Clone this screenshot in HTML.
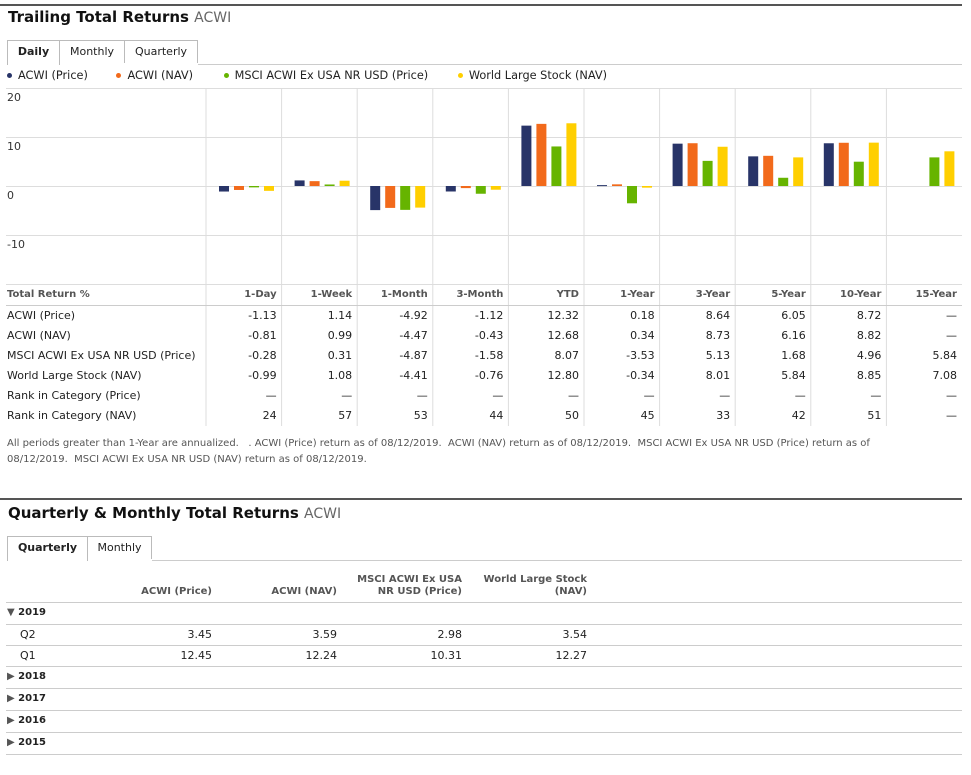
<!DOCTYPE html>
<html><head><meta charset="utf-8"><style>
body{margin:0;width:971px;height:775px;background:#fff;font-family:"DejaVu Sans",Verdana,sans-serif;font-size:11px;color:#222;position:relative;overflow:hidden}
.a{position:absolute;white-space:nowrap}
.rule{position:absolute;left:0;width:962px;height:2px;background:#555}
.title{font-size:15px;font-weight:bold;color:#111}
.title span{font-weight:normal;color:#666;font-size:14px}
.tab{position:absolute;height:23px;border:1px solid #bbb;border-bottom:none;box-sizing:border-box;line-height:22px;text-align:center;font-size:11px;background:#fff}
.tab.on{font-weight:bold;height:25px}
.hl{position:absolute;left:6px;width:956px;height:1px;background:#ccc}
.r{text-align:right}
.b{font-weight:bold;color:#555}
.dot{display:inline-block;width:5px;height:5px;border-radius:50%;margin-right:6px;vertical-align:1px}
</style></head><body>
<div class="rule" style="top:4px"></div>
<div class="a title" style="left:8px;top:8px">Trailing Total Returns <span>ACWI</span></div>
<div class="tab on" style="left:7px;top:40px;width:53px">Daily</div>
<div class="tab" style="left:59px;top:40px;width:66px">Monthly</div>
<div class="tab" style="left:124px;top:40px;width:74px">Quarterly</div>
<div class="hl" style="top:64px;left:198px;width:764px"></div>
<div class="a" style="left:7px;top:69px;line-height:14px;font-size:11.3px">
<span><i class="dot" style="background:#283468"></i>ACWI (Price)</span>
<span style="margin-left:25px"><i class="dot" style="background:#f26a1b"></i>ACWI (NAV)</span>
<span style="margin-left:27px"><i class="dot" style="background:#66b400"></i>MSCI ACWI Ex USA NR USD (Price)</span>
<span style="margin-left:26px"><i class="dot" style="background:#ffcf00"></i>World Large Stock (NAV)</span>
</div>
<svg id="chart" class="a" style="left:0;top:0" width="971" height="310"></svg>
<div id="tbl"></div>
<div class="a" style="left:7px;top:436px;font-size:10px;line-height:16px;color:#555;white-space:normal;width:920px">All periods greater than 1-Year are annualized. &nbsp;&nbsp;. ACWI (Price) return as of 08/12/2019. &nbsp;ACWI (NAV) return as of 08/12/2019. &nbsp;MSCI ACWI Ex USA NR USD (Price) return as of 08/12/2019. &nbsp;MSCI ACWI Ex USA NR USD (NAV) return as of 08/12/2019.</div>

<div class="rule" style="top:498px"></div>
<div class="a title" style="left:8px;top:504px">Quarterly &amp; Monthly Total Returns <span>ACWI</span></div>
<div class="tab on" style="left:7px;top:536px;width:81px">Quarterly</div>
<div class="tab" style="left:87px;top:536px;width:65px">Monthly</div>
<div class="hl" style="top:560px;left:152px;width:810px"></div>
<div id="qt"></div>
<script>
const categories=["1-Day","1-Week","1-Month","3-Month","YTD","1-Year","3-Year","5-Year","10-Year","15-Year"];
const seriesNames=["ACWI (Price)","ACWI (NAV)","MSCI ACWI Ex USA NR USD (Price)","World Large Stock (NAV)"];
const acwiPrice=[-1.13,1.14,-4.92,-1.12,12.32,0.18,8.64,6.05,8.72,null];
const acwiNav=[-0.81,0.99,-4.47,-0.43,12.68,0.34,8.73,6.16,8.82,null];
const msci=[-0.28,0.31,-4.87,-1.58,8.07,-3.53,5.13,1.68,4.96,5.84];
const wls=[-0.99,1.08,-4.41,-0.76,12.80,-0.34,8.01,5.84,8.85,7.08];
const rankPrice=[null,null,null,null,null,null,null,null,null,null];
const rankNav=[24,57,53,44,50,45,33,42,51,null];
const yTicks=[20,10,0,-10];
const colors=["#283468","#f26a1b","#66b400","#ffcf00"];
const NS="http://www.w3.org/2000/svg";
const svg=document.getElementById('chart');
const x0=206,cw=75.6,plotTop=88,plotBot=284;
const yScale=v=>186-v*4.9;
function mk(t,a){const e=document.createElementNS(NS,t);for(const k in a)e.setAttribute(k,a[k]);svg.appendChild(e);return e;}
yTicks.forEach(t=>{const l=mk('line',{x1:6,x2:962,y1:yScale(t)+0.5,y2:yScale(t)+0.5,stroke:'#ddd'});


const tx=mk('text',{x:7,y:yScale(t)+13,'font-size':11,fill:'#333','font-family':'DejaVu Sans, sans-serif'});tx.textContent=t;

});
mk('line',{x1:6,x2:962,y1:plotBot+0.5,y2:plotBot+0.5,stroke:'#ddd'});
for(let i=0;i<categories.length;i++){const l=mk('line',{x1:x0+i*cw,x2:x0+i*cw,y1:plotTop,y2:426,stroke:'#ddd'});

}
svg.setAttribute('height','430');
[acwiPrice,acwiNav,msci,wls].forEach((s,si)=>{s.forEach((v,i)=>{if(v==null)return;
const yy=Math.min(yScale(v),yScale(0)),h=Math.max(Math.abs(yScale(v)-yScale(0)),1);
const r=mk('rect',{x:x0+i*cw+13+si*15,y:yy,width:10,height:h,fill:colors[si]});

});});
const rows=[["ACWI (Price)",acwiPrice,2],["ACWI (NAV)",acwiNav,2],["MSCI ACWI Ex USA NR USD (Price)",msci,2],["World Large Stock (NAV)",wls,2],["Rank in Category (Price)",rankPrice,0],["Rank in Category (NAV)",rankNav,0]];
let h='';
h+='<div class="a b" style="left:7px;top:289px;font-size:10px">Total Return %</div>';
categories.forEach((c,i)=>{h+=`<div class="a b r" style="left:${x0+i*cw}px;width:${cw-5}px;top:289px;font-size:10px">${c}</div>`;});
h+='<div class="hl" style="top:305px"></div>';
rows.forEach((r,ri)=>{const ty=309+ri*20;
h+=`<div class="a" style="left:7px;top:${ty}px">${r[0]}</div>`;
r[1].forEach((v,i)=>{const t=v==null?'—':(r[2]?v.toFixed(2):v);h+=`<div class="a r" style="left:${x0+i*cw}px;width:${cw-5}px;top:${ty}px">${t}</div>`;});});
document.getElementById('tbl').innerHTML=h;
const qCols=["ACWI (Price)","ACWI (NAV)","MSCI ACWI Ex USA<br>NR USD (Price)","World Large Stock<br>(NAV)"];
const qRight=[212,337,462,587];
const q2=[3.45,3.59,2.98,3.54];
const q1=[12.45,12.24,10.31,12.27];
const years=["2018","2017","2016","2015"];
let g='';
qCols.forEach((c,i)=>{const two=c.includes('<br>');g+=`<div class="a b r" style="right:${971-qRight[i]}px;top:${two?574:586}px;font-size:10px;line-height:12px">${c}</div>`;});
g+='<div class="hl" style="top:602px"></div>';
g+='<div class="a b" style="left:7px;top:607px;font-size:10px;color:#222"><span style="color:#555">▼</span> 2019</div><div class="hl" style="top:624px"></div>';
[["Q2",q2,628,645],["Q1",q1,649,666]].forEach(r=>{g+=`<div class="a" style="left:20px;top:${r[2]}px">${r[0]}</div>`;
r[1].forEach((v,i)=>{g+=`<div class="a r" style="right:${971-qRight[i]}px;top:${r[2]}px">${v.toFixed(2)}</div>`;});
g+=`<div class="hl" style="top:${r[3]}px"></div>`;});
years.forEach((yv,i)=>{const t=671+i*22;g+=`<div class="a b" style="left:7px;top:${t}px;font-size:10px;color:#222"><span style="color:#555">▶</span> ${yv}</div><div class="hl" style="top:${t+17}px"></div>`;});
document.getElementById('qt').innerHTML=g;
</script>
</body></html>
